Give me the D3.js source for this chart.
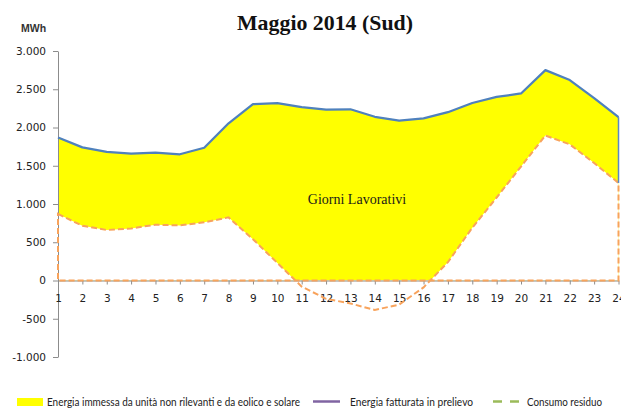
<!DOCTYPE html>
<html>
<head>
<meta charset="utf-8">
<script src="https://cdn.jsdelivr.net/npm/d3@7"></script>
<style>
  html, body { margin: 0; padding: 0; background: #fff; }
  svg { display: block; }
</style>
</head>
<body>
<svg id="chart" width="621" height="408"></svg>
<script>
// ---- data ----
const title = "Maggio 2014  (Sud)";
const unitLabel = "MWh";
const annotation = "Giorni Lavorativi";
const hours = d3.range(1, 25);
const energiaImmessa = [1870, 1740, 1680, 1660, 1670, 1650, 1735, 2055, 2305, 2320, 2265, 2235,
                        2238, 2140, 2090, 2120, 2200, 2320, 2400, 2445, 2750, 2620, 2385, 2135];
const consumoResiduo = [870, 715, 660, 680, 730, 720, 760, 825, 540, 230, -80, -240,
                        -300, -385, -315, -90, 240, 690, 1085, 1490, 1895, 1780, 1535, 1275];
const yTicks = [-1000, -500, 0, 500, 1000, 1500, 2000, 2500, 3000];
const legendLabels = ["Energia immessa da unità non rilevanti e da eolico e solare",
                      "Energia fatturata  in prelievo",
                      "Consumo residuo"];

// ---- setup ----
const svg = d3.select("#chart");
const x = d3.scaleLinear().domain([1, 24]).range([58, 618.5]);
const y = d3.scaleLinear().domain([-1000, 3000]).range([357, 51]);
const locale = d3.formatLocale({decimal: ",", thousands: ".", grouping: [3], currency: ["", ""], minus: "-"});
const fmt = locale.format(",");

const pts = hours.map((h, i) => ({h, top: energiaImmessa[i], res: consumoResiduo[i]}));

// yellow area (energia immessa) down to zero
svg.append("path")
  .datum(pts)
  .attr("fill", "#FFFF00")
  .attr("d", d3.area().x(d => x(d.h)).y0(y(0)).y1(d => y(d.top)));

// white area of residual consumption
svg.append("path")
  .datum(pts)
  .attr("fill", "#FFFFFF")
  .attr("d", d3.area().x(d => x(d.h)).y0(y(0)).y1(d => y(d.res)));

// axes
const axisColor = "#8C8C8C";
const gy = svg.append("g")
  .attr("transform", `translate(${x(1)},0)`)
  .call(d3.axisLeft(y).tickValues(yTicks).tickFormat(fmt).tickSize(5).tickPadding(7).tickSizeOuter(0));
const gx = svg.append("g")
  .attr("transform", `translate(0,${y(0)})`)
  .call(d3.axisBottom(x).tickValues(hours).tickFormat(d3.format("d")).tickSize(4).tickPadding(10.5).tickSizeOuter(0));
[gx, gy].forEach(g => {
  g.select(".domain").attr("stroke", axisColor).attr("stroke-width", 1);
  g.selectAll(".tick line").attr("stroke", axisColor);
  g.selectAll(".tick text")
    .attr("fill", "#222")
    .style("font-family", "'DejaVu Sans', Verdana, sans-serif")
    .style("font-size", "10.5px");
});

// residual border (dashed orange, closed to baseline)
const last = pts[pts.length - 1], first = pts[0];
svg.append("path")
  .datum(pts)
  .attr("fill", "none")
  .attr("stroke", "#F8A35C")
  .attr("stroke-width", 2)
  .attr("stroke-dasharray", "6,3")
  .attr("d", d3.line().x(d => x(d.h)).y(d => y(d.res))(pts)
    + `L${x(last.h)},${y(0)}L${x(first.h)},${y(0)}Z`);

// right edge of yellow area
svg.append("line")
  .attr("x1", x(last.h)).attr("x2", x(last.h))
  .attr("y1", y(last.top)).attr("y2", y(Math.max(last.res, 0)))
  .attr("stroke", "#5A88C2").attr("stroke-width", 1.5);

// top line
svg.append("path")
  .datum(pts)
  .attr("fill", "none")
  .attr("stroke", "#4F81BD")
  .attr("stroke-width", 2.25)
  .attr("stroke-linejoin", "round")
  .attr("d", d3.line().x(d => x(d.h)).y(d => y(d.top)));

// title
svg.append("text")
  .attr("x", 325).attr("y", 29.5)
  .attr("text-anchor", "middle")
  .style("font-family", "'Liberation Serif', 'Times New Roman', serif")
  .style("font-weight", "bold")
  .style("font-size", "21px")
  .attr("fill", "#111")
  .attr("textLength", 176).attr("lengthAdjust", "spacingAndGlyphs")
  .text(title);

// unit label
svg.append("text")
  .attr("x", 21).attr("y", 32)
  .style("font-family", "'Liberation Sans', Arial, sans-serif")
  .style("font-weight", "bold")
  .style("font-size", "10.5px")
  .attr("fill", "#333")
  .text(unitLabel);

// annotation
svg.append("text")
  .attr("x", 357).attr("y", 203.5)
  .attr("text-anchor", "middle")
  .style("font-family", "'Liberation Serif', 'Times New Roman', serif")
  .style("font-size", "14px")
  .attr("fill", "#1a1a1a")
  .text(annotation);

// legend
const lg = svg.append("g");
const legendFont = g => g.style("font-family", "Lato, 'Open Sans', sans-serif").style("font-size", "10.5px").attr("fill", "#222");
lg.append("rect").attr("x", 17).attr("y", 398).attr("width", 26).attr("height", 8).attr("fill", "#FFFF00");
lg.append("text").attr("x", 47).attr("y", 405.5).call(legendFont)
  .attr("textLength", 253).attr("lengthAdjust", "spacingAndGlyphs").text(legendLabels[0]);
lg.append("line").attr("x1", 313).attr("x2", 340).attr("y1", 401.5).attr("y2", 401.5)
  .attr("stroke", "#8064A2").attr("stroke-width", 2.5);
lg.append("text").attr("x", 350).attr("y", 405.5).call(legendFont)
  .attr("textLength", 123).attr("lengthAdjust", "spacingAndGlyphs").text(legendLabels[1]);
lg.append("line").attr("x1", 493).attr("x2", 520).attr("y1", 401.5).attr("y2", 401.5)
  .attr("stroke", "#9BBB59").attr("stroke-width", 2.5).attr("stroke-dasharray", "9,8");
lg.append("text").attr("x", 527).attr("y", 405.5).call(legendFont)
  .attr("textLength", 75).attr("lengthAdjust", "spacingAndGlyphs").text(legendLabels[2]);
</script>
</body>
</html>
